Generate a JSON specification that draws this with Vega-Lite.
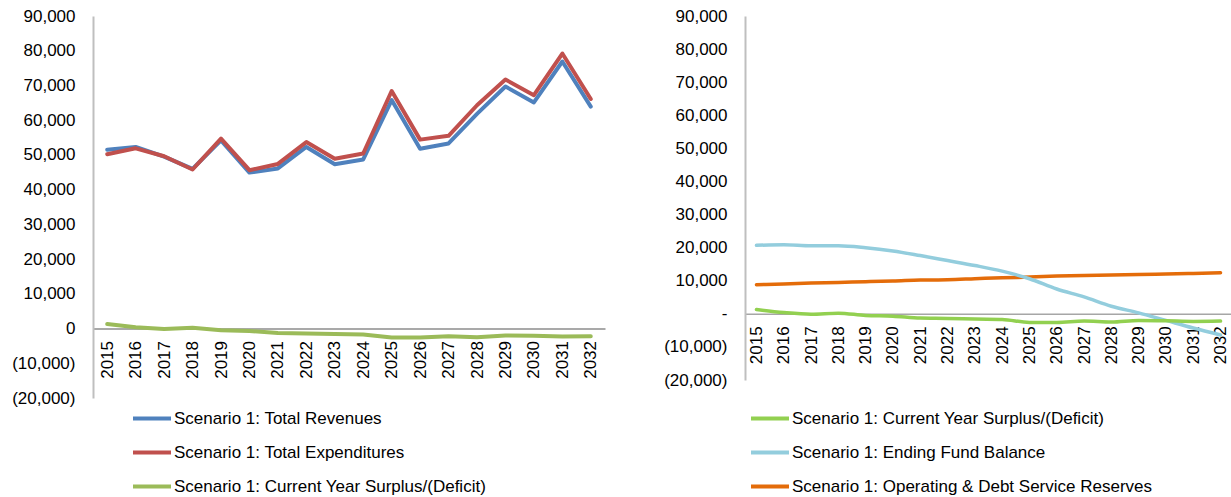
{
  "$schema": "https://vega.github.io/schema/vega-lite/v6.json",
  "padding": {"left": 11, "top": 7, "right": 0, "bottom": 0},
  "background": "white",
  "config": {
    "view": {"stroke": null},
    "font": "Liberation Sans",
    "axis": {"labelFont": "Liberation Sans", "labelFontSize": 17, "labelColor": "#000000", "title": null, "grid": false, "ticks": false, "tickSize": 0},
    "legend": {"labelFont": "Liberation Sans", "labelFontSize": 17, "labelColor": "#000000", "labelLimit": 700, "symbolType": "M-1,0H3", "symbolSize": 361, "symbolStrokeWidth": 4, "labelOffset": 20, "rowPadding": 14, "title": null, "orient": "none", "direction": "vertical"}
  },
  "data": {"values": [
    {"year": "2015", "series": "Scenario 1: Total Revenues", "value": 51500},
    {"year": "2016", "series": "Scenario 1: Total Revenues", "value": 52300},
    {"year": "2017", "series": "Scenario 1: Total Revenues", "value": 49500},
    {"year": "2018", "series": "Scenario 1: Total Revenues", "value": 46000},
    {"year": "2019", "series": "Scenario 1: Total Revenues", "value": 54200},
    {"year": "2020", "series": "Scenario 1: Total Revenues", "value": 44900},
    {"year": "2021", "series": "Scenario 1: Total Revenues", "value": 46100},
    {"year": "2022", "series": "Scenario 1: Total Revenues", "value": 52300},
    {"year": "2023", "series": "Scenario 1: Total Revenues", "value": 47300},
    {"year": "2024", "series": "Scenario 1: Total Revenues", "value": 48700},
    {"year": "2025", "series": "Scenario 1: Total Revenues", "value": 65800},
    {"year": "2026", "series": "Scenario 1: Total Revenues", "value": 51800},
    {"year": "2027", "series": "Scenario 1: Total Revenues", "value": 53300},
    {"year": "2028", "series": "Scenario 1: Total Revenues", "value": 61800},
    {"year": "2029", "series": "Scenario 1: Total Revenues", "value": 69700},
    {"year": "2030", "series": "Scenario 1: Total Revenues", "value": 65100},
    {"year": "2031", "series": "Scenario 1: Total Revenues", "value": 76900},
    {"year": "2032", "series": "Scenario 1: Total Revenues", "value": 63900},
    {"year": "2015", "series": "Scenario 1: Total Expenditures", "value": 50200},
    {"year": "2016", "series": "Scenario 1: Total Expenditures", "value": 51900},
    {"year": "2017", "series": "Scenario 1: Total Expenditures", "value": 49600},
    {"year": "2018", "series": "Scenario 1: Total Expenditures", "value": 45800},
    {"year": "2019", "series": "Scenario 1: Total Expenditures", "value": 54700},
    {"year": "2020", "series": "Scenario 1: Total Expenditures", "value": 45600},
    {"year": "2021", "series": "Scenario 1: Total Expenditures", "value": 47400},
    {"year": "2022", "series": "Scenario 1: Total Expenditures", "value": 53700},
    {"year": "2023", "series": "Scenario 1: Total Expenditures", "value": 48900},
    {"year": "2024", "series": "Scenario 1: Total Expenditures", "value": 50400},
    {"year": "2025", "series": "Scenario 1: Total Expenditures", "value": 68400},
    {"year": "2026", "series": "Scenario 1: Total Expenditures", "value": 54400},
    {"year": "2027", "series": "Scenario 1: Total Expenditures", "value": 55500},
    {"year": "2028", "series": "Scenario 1: Total Expenditures", "value": 64300},
    {"year": "2029", "series": "Scenario 1: Total Expenditures", "value": 71700},
    {"year": "2030", "series": "Scenario 1: Total Expenditures", "value": 67200},
    {"year": "2031", "series": "Scenario 1: Total Expenditures", "value": 79200},
    {"year": "2032", "series": "Scenario 1: Total Expenditures", "value": 66100},
    {"year": "2015", "series": "Scenario 1: Operating & Debt Service Reserves", "value": 8800},
    {"year": "2016", "series": "Scenario 1: Operating & Debt Service Reserves", "value": 9000},
    {"year": "2017", "series": "Scenario 1: Operating & Debt Service Reserves", "value": 9300},
    {"year": "2018", "series": "Scenario 1: Operating & Debt Service Reserves", "value": 9500},
    {"year": "2019", "series": "Scenario 1: Operating & Debt Service Reserves", "value": 9700},
    {"year": "2020", "series": "Scenario 1: Operating & Debt Service Reserves", "value": 9900},
    {"year": "2021", "series": "Scenario 1: Operating & Debt Service Reserves", "value": 10200},
    {"year": "2022", "series": "Scenario 1: Operating & Debt Service Reserves", "value": 10300},
    {"year": "2023", "series": "Scenario 1: Operating & Debt Service Reserves", "value": 10600},
    {"year": "2024", "series": "Scenario 1: Operating & Debt Service Reserves", "value": 10900},
    {"year": "2025", "series": "Scenario 1: Operating & Debt Service Reserves", "value": 11100},
    {"year": "2026", "series": "Scenario 1: Operating & Debt Service Reserves", "value": 11400},
    {"year": "2027", "series": "Scenario 1: Operating & Debt Service Reserves", "value": 11600},
    {"year": "2028", "series": "Scenario 1: Operating & Debt Service Reserves", "value": 11700},
    {"year": "2029", "series": "Scenario 1: Operating & Debt Service Reserves", "value": 11900},
    {"year": "2030", "series": "Scenario 1: Operating & Debt Service Reserves", "value": 12000},
    {"year": "2031", "series": "Scenario 1: Operating & Debt Service Reserves", "value": 12200},
    {"year": "2032", "series": "Scenario 1: Operating & Debt Service Reserves", "value": 12400},
    {"year": "2015", "series": "Scenario 1: Ending Fund Balance", "value": 20700},
    {"year": "2016", "series": "Scenario 1: Ending Fund Balance", "value": 20900},
    {"year": "2017", "series": "Scenario 1: Ending Fund Balance", "value": 20600},
    {"year": "2018", "series": "Scenario 1: Ending Fund Balance", "value": 20600},
    {"year": "2019", "series": "Scenario 1: Ending Fund Balance", "value": 20000},
    {"year": "2020", "series": "Scenario 1: Ending Fund Balance", "value": 19000},
    {"year": "2021", "series": "Scenario 1: Ending Fund Balance", "value": 17600},
    {"year": "2022", "series": "Scenario 1: Ending Fund Balance", "value": 16100},
    {"year": "2023", "series": "Scenario 1: Ending Fund Balance", "value": 14600},
    {"year": "2024", "series": "Scenario 1: Ending Fund Balance", "value": 12900},
    {"year": "2025", "series": "Scenario 1: Ending Fund Balance", "value": 10600},
    {"year": "2026", "series": "Scenario 1: Ending Fund Balance", "value": 7500},
    {"year": "2027", "series": "Scenario 1: Ending Fund Balance", "value": 5100},
    {"year": "2028", "series": "Scenario 1: Ending Fund Balance", "value": 2300},
    {"year": "2029", "series": "Scenario 1: Ending Fund Balance", "value": 300},
    {"year": "2030", "series": "Scenario 1: Ending Fund Balance", "value": -2000},
    {"year": "2031", "series": "Scenario 1: Ending Fund Balance", "value": -4300},
    {"year": "2032", "series": "Scenario 1: Ending Fund Balance", "value": -6400},
    {"year": "2015", "series": "Scenario 1: Current Year Surplus/(Deficit)", "value": 1300},
    {"year": "2016", "series": "Scenario 1: Current Year Surplus/(Deficit)", "value": 400},
    {"year": "2017", "series": "Scenario 1: Current Year Surplus/(Deficit)", "value": -100},
    {"year": "2018", "series": "Scenario 1: Current Year Surplus/(Deficit)", "value": 200},
    {"year": "2019", "series": "Scenario 1: Current Year Surplus/(Deficit)", "value": -500},
    {"year": "2020", "series": "Scenario 1: Current Year Surplus/(Deficit)", "value": -700},
    {"year": "2021", "series": "Scenario 1: Current Year Surplus/(Deficit)", "value": -1300},
    {"year": "2022", "series": "Scenario 1: Current Year Surplus/(Deficit)", "value": -1400},
    {"year": "2023", "series": "Scenario 1: Current Year Surplus/(Deficit)", "value": -1600},
    {"year": "2024", "series": "Scenario 1: Current Year Surplus/(Deficit)", "value": -1700},
    {"year": "2025", "series": "Scenario 1: Current Year Surplus/(Deficit)", "value": -2600},
    {"year": "2026", "series": "Scenario 1: Current Year Surplus/(Deficit)", "value": -2600},
    {"year": "2027", "series": "Scenario 1: Current Year Surplus/(Deficit)", "value": -2200},
    {"year": "2028", "series": "Scenario 1: Current Year Surplus/(Deficit)", "value": -2500},
    {"year": "2029", "series": "Scenario 1: Current Year Surplus/(Deficit)", "value": -2000},
    {"year": "2030", "series": "Scenario 1: Current Year Surplus/(Deficit)", "value": -2100},
    {"year": "2031", "series": "Scenario 1: Current Year Surplus/(Deficit)", "value": -2300},
    {"year": "2032", "series": "Scenario 1: Current Year Surplus/(Deficit)", "value": -2200}
  ]},
  "spacing": 58,
  "resolve": {"scale": {"color": "independent", "x": "independent", "y": "independent"}, "legend": {"color": "independent"}},
  "hconcat": [
    {
      "width": 512,
      "height": 382,
      "transform": [{"filter": {"field": "series", "oneOf": ["Scenario 1: Total Revenues", "Scenario 1: Total Expenditures", "Scenario 1: Current Year Surplus/(Deficit)"]}}],
      "mark": {"type": "line", "strokeWidth": 4, "strokeJoin": "round", "strokeCap": "round"},
      "encoding": {
        "x": {"field": "year", "type": "ordinal", "scale": {"type": "point", "padding": 0.5},
          "axis": {"orient": "bottom", "offset": -69.5, "labelAngle": -90, "labelPadding": 12, "domainColor": "#8C8C8C", "domainWidth": 1.5}},
        "y": {"field": "value", "type": "quantitative", "scale": {"domain": [-20000, 90000], "nice": false, "zero": false},
          "axis": {"values": [-20000, -10000, 0, 10000, 20000, 30000, 40000, 50000, 60000, 70000, 80000, 90000],
            "labelExpr": "datum.value < 0 ? '(' + format(-datum.value, ',') + ')' : format(datum.value, ',') + '\u00a0'",
            "labelPadding": 18, "domainColor": "#BFBFBF", "domainWidth": 2}},
        "color": {"field": "series", "type": "nominal",
          "scale": {"domain": ["Scenario 1: Total Revenues", "Scenario 1: Total Expenditures", "Scenario 1: Current Year Surplus/(Deficit)"], "range": ["#4F81BD", "#C0504D", "#9BBB59"]},
          "legend": {"orient": "none", "legendX": 38, "legendY": 391}}
      }
    },
    {
      "width": 487,
      "height": 364,
      "transform": [{"filter": {"field": "series", "oneOf": ["Scenario 1: Current Year Surplus/(Deficit)", "Scenario 1: Ending Fund Balance", "Scenario 1: Operating & Debt Service Reserves"]}}],
      "mark": {"type": "line", "strokeWidth": 3.5, "interpolate": "monotone", "strokeCap": "round"},
      "encoding": {
        "x": {"field": "year", "type": "ordinal", "scale": {"type": "point", "padding": 0.42},
          "axis": {"orient": "bottom", "offset": -66.2, "labelAngle": -90, "labelPadding": 12, "domainColor": "#A6A6A6", "domainWidth": 1.5}},
        "y": {"field": "value", "type": "quantitative", "scale": {"domain": [-20000, 90000], "nice": false, "zero": false},
          "axis": {"values": [-20000, -10000, 0, 10000, 20000, 30000, 40000, 50000, 60000, 70000, 80000, 90000],
            "labelExpr": "datum.value < 0 ? '(' + format(-datum.value, ',') + ')' : datum.value == 0 ? '-\u00a0\u00a0\u00a0' : format(datum.value, ',') + '\u00a0'",
            "labelPadding": 18, "domainColor": "#BFBFBF", "domainWidth": 2}},
        "color": {"field": "series", "type": "nominal",
          "scale": {"domain": ["Scenario 1: Current Year Surplus/(Deficit)", "Scenario 1: Ending Fund Balance", "Scenario 1: Operating & Debt Service Reserves"], "range": ["#92D050", "#93CDDD", "#E46C0A"]},
          "legend": {"orient": "none", "legendX": 4, "legendY": 391}}
      }
    }
  ]
}
